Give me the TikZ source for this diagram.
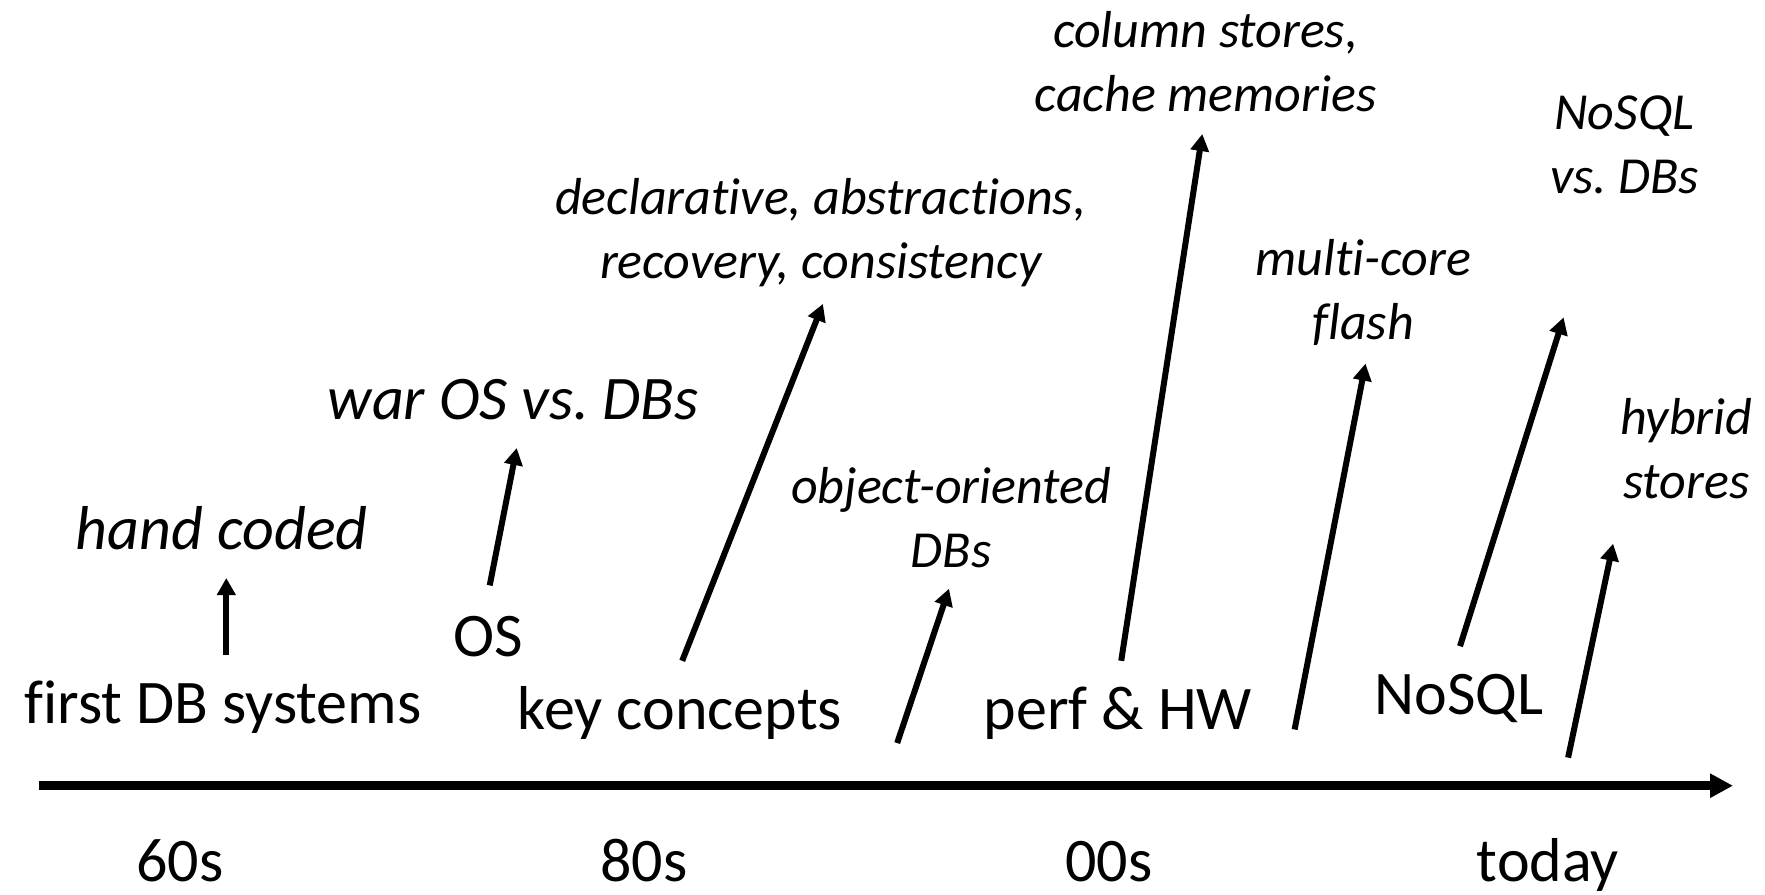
\documentclass[tikz,border=0pt]{standalone}
\usepackage{fontspec}
\setmainfont{Carlito}[Ligatures=NoCommon]
\usetikzlibrary{arrows.meta}
\frenchspacing
\begin{document}
\begin{tikzpicture}[x=0.5pt,y=-0.5pt,
  big/.style={font=\fontsize{31}{37}\selectfont, inner sep=0pt, anchor=base},
  bigit/.style={font=\fontsize{31}{37}\selectfont\itshape, inner sep=0pt, anchor=base},
  smallit/.style={font=\fontsize{26}{32}\selectfont\itshape, inner sep=0pt, align=center},
  era/.style={line width=3pt, -{Triangle[length=8.5pt,width=9pt]}},
  axisline/.style={line width=4.5pt, -{Triangle[length=11.5pt,width=11.5pt]}}]
\useasboundingbox (0,0) rectangle (1765,894);

% timeline axis
\coordinate (axS) at (39.4,785.7);
\coordinate (axE) at (1733,785.7);
\draw[axisline] (axS) -- (axE);

% decades
\node[big] (d60) at (180.1,881) {60s};
\node[big] (d80) at (643.9,881) {80s};
\node[big] (d00) at (1108.8,881) {00s};
\node[big] (dtoday) at (1547.8,881) {today};

% lower labels
\node[big] (first) at (222.9,723.8) {first DB systems};
\node[big] (os) at (488.5,656.3) {OS};
\node[big] (key) at (680,729.5) {key concepts};
\node[big] (perf) at (1117.8,729.5) {perf \& HW};
\node[big] (nosql) at (1458.9,714.8) {NoSQL};

% upper labels
\node[bigit] (hand) at (221.8,549.3) {hand coded};
\node[bigit] (war) at (513.3,419.9) {war OS vs. DBs};
\node[smallit] (decl) at (820.6,232.5) {declarative, abstractions,\\recovery, consistency};
\node[smallit] (oo) at (951.2,517.8) {object-oriented\\DBs};
\node[smallit] (col) at (1205.6,61.9) {column stores,\\cache memories};
\node[smallit] (multi) at (1363.2,292.7) {multi-core\\flash};
\node[smallit] (nvs) at (1624.4,144.7) {NoSQL\\vs. DBs};
\node[smallit] (hyb) at (1686.3,448.6) {hybrid\\stores};

% arrows
\coordinate (a1s) at (226.3,655); \coordinate (a1e) at (226.3,578);
\coordinate (a2s) at (489.7,585.4); \coordinate (a2e) at (516.7,448);
\coordinate (a3s) at (682.2,660.8); \coordinate (a3e) at (822.9,303.9);
\coordinate (a4s) at (897.2,743);   \coordinate (a4e) at (949,588.7);
\coordinate (a5s) at (1121.2,660.8); \coordinate (a5e) at (1202.3,134);
\coordinate (a6s) at (1294.6,729.5); \coordinate (a6e) at (1365.5,363.6);
\coordinate (a7s) at (1460,646.2);  \coordinate (a7e) at (1563.6,317.4);
\coordinate (a8s) at (1568.1,757.6); \coordinate (a8e) at (1613.1,543.7);
\draw[era] (a1s) -- (a1e);
\draw[era] (a2s) -- (a2e);
\draw[era] (a3s) -- (a3e);
\draw[era] (a4s) -- (a4e);
\draw[era] (a5s) -- (a5e);
\draw[era] (a6s) -- (a6e);
\draw[era] (a7s) -- (a7e);
\draw[era] (a8s) -- (a8e);
\end{tikzpicture}
\end{document}
